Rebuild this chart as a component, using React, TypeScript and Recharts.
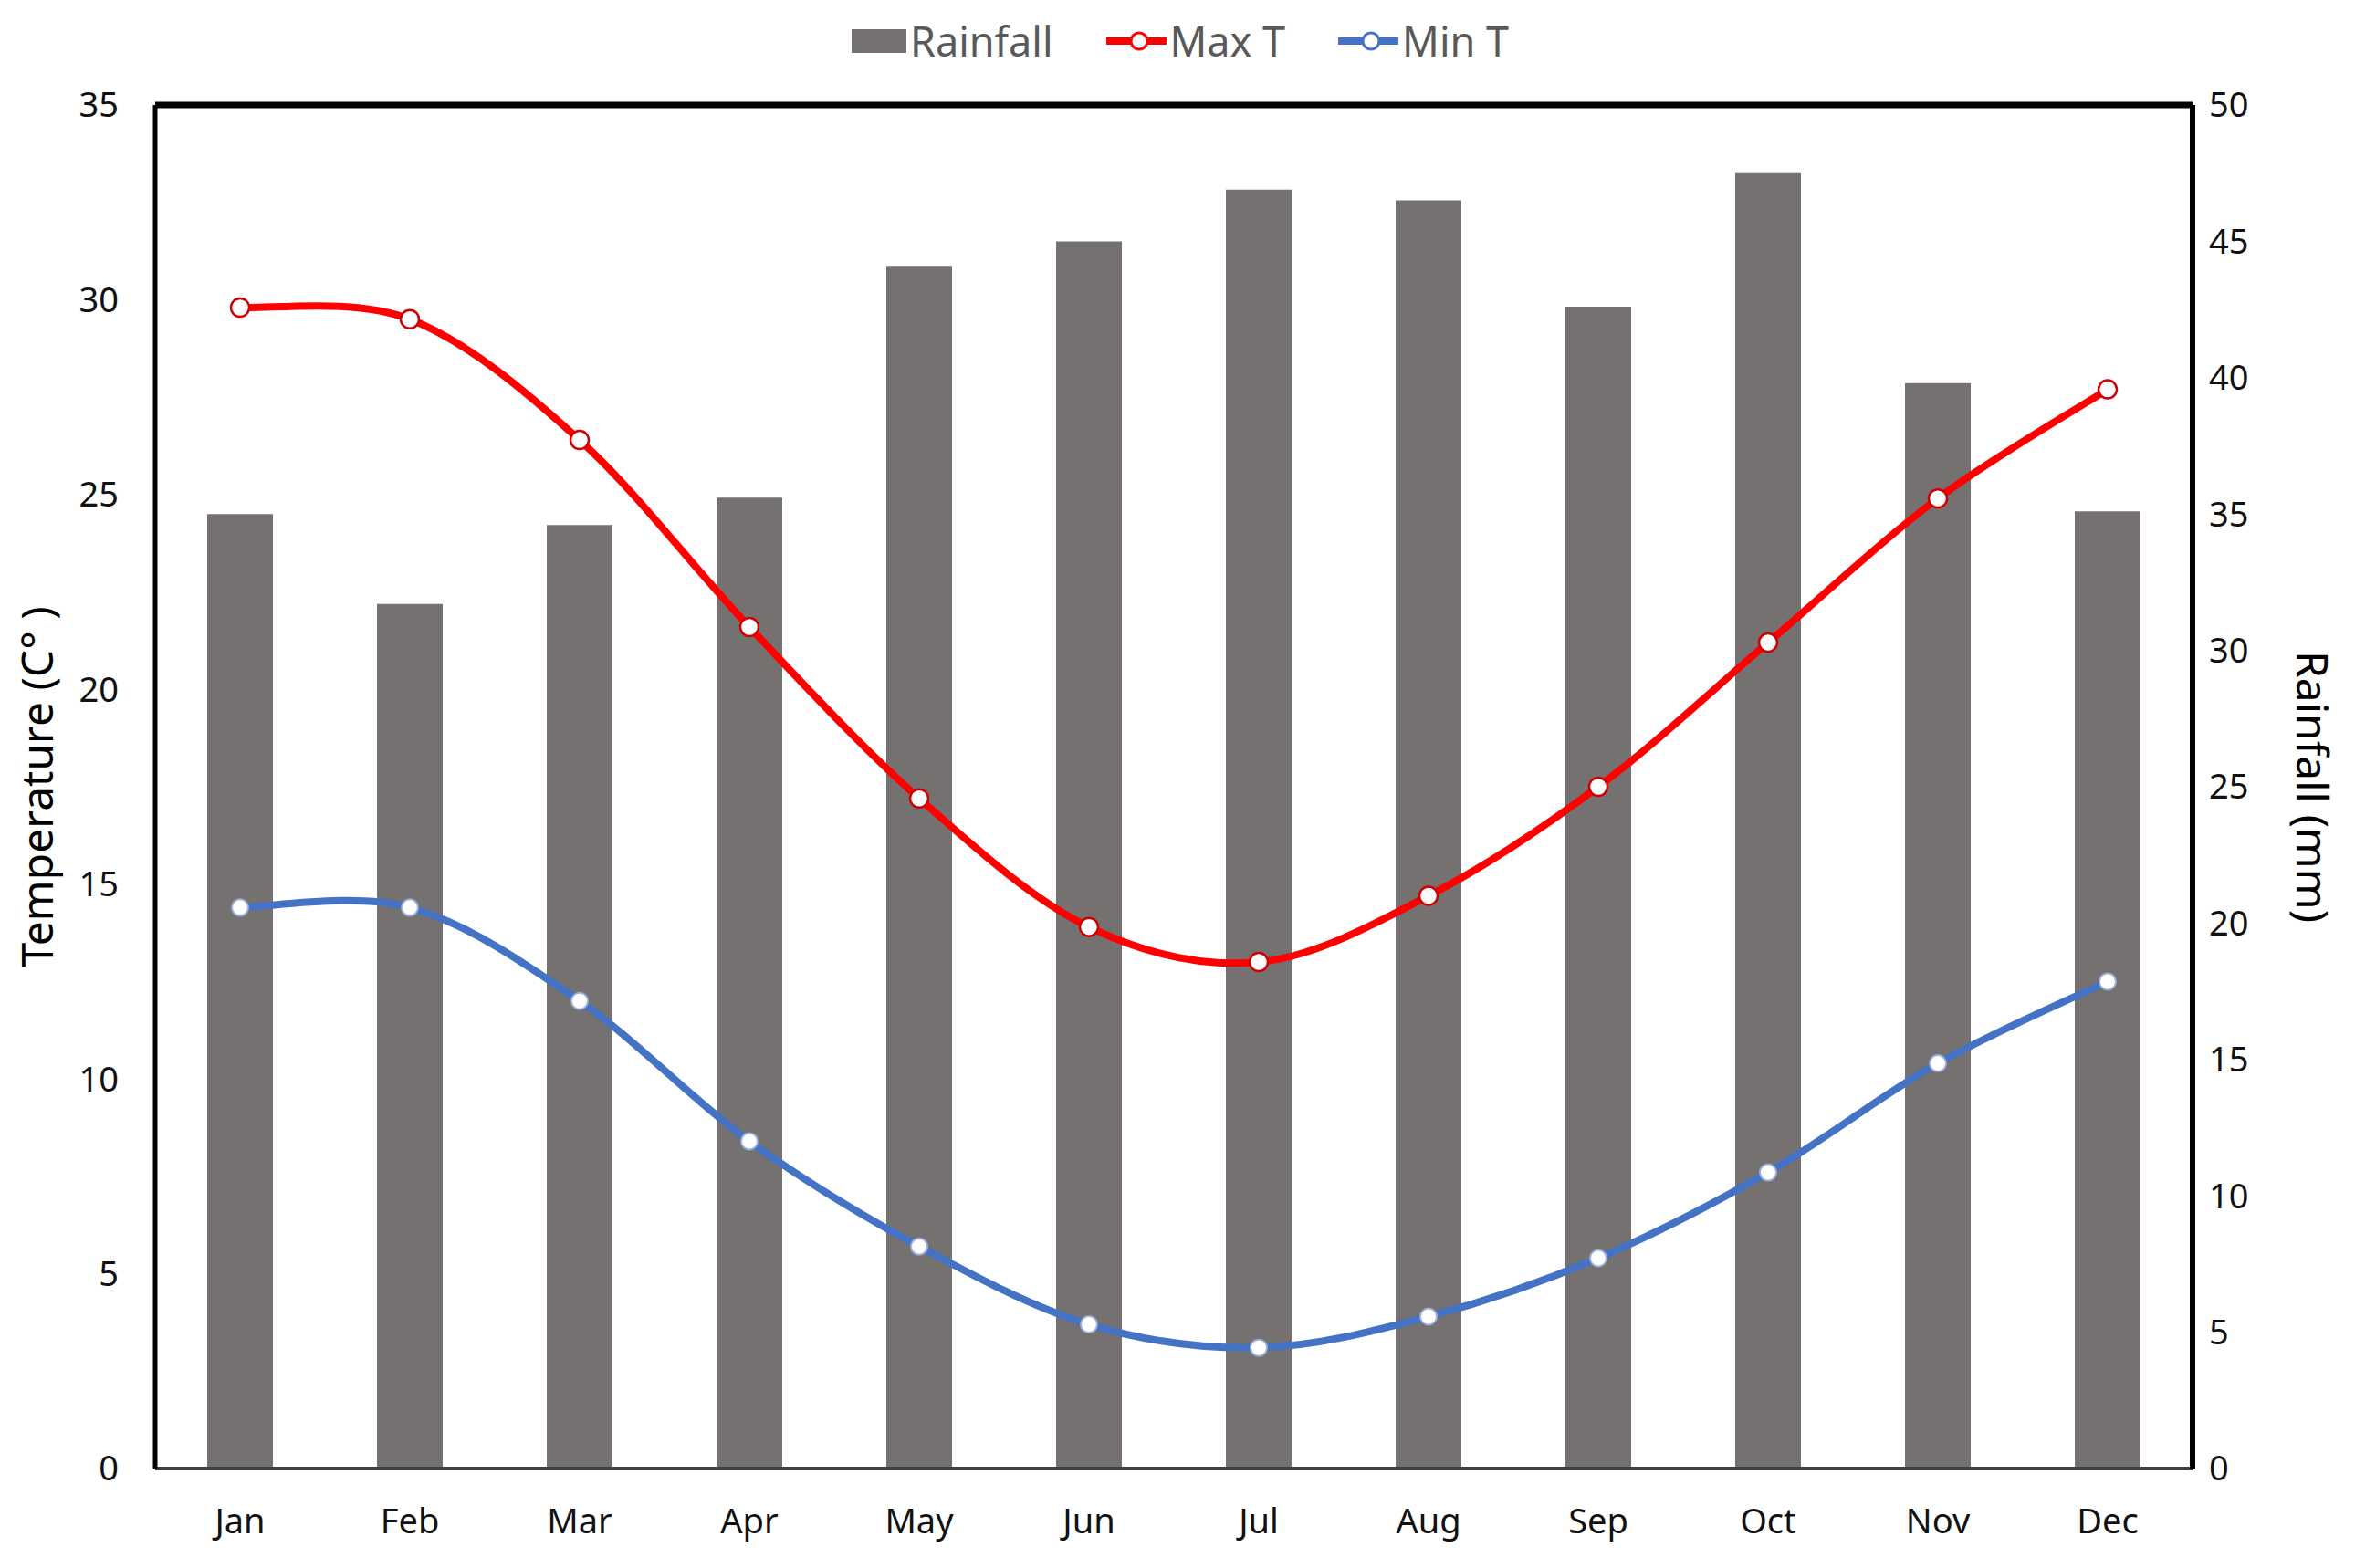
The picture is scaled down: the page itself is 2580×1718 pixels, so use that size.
import React from "react";
import { ComposedChart, Bar, Line, XAxis, YAxis, ReferenceLine } from "recharts";

const months = ["Jan", "Feb", "Mar", "Apr", "May", "Jun", "Jul", "Aug", "Sep", "Oct", "Nov", "Dec"];
const rainfall = [35.0, 31.7, 34.6, 35.6, 44.1, 45.0, 46.9, 46.5, 42.6, 47.5, 39.8, 35.1];
const maxT = [29.8, 29.5, 26.4, 21.6, 17.2, 13.9, 13.0, 14.7, 17.5, 21.2, 24.9, 27.7];
const minT = [14.4, 14.4, 12.0, 8.4, 5.7, 3.7, 3.1, 3.9, 5.4, 7.6, 10.4, 12.5];
const tempTicks = [0, 5, 10, 15, 20, 25, 30, 35];
const rainTicks = [0, 5, 10, 15, 20, 25, 30, 35, 40, 45, 50];

const data = months.map((m, i) => ({ month: m, rainfall: rainfall[i], maxT: maxT[i], minT: minT[i] }));

const FONT = "'Noto Sans', sans-serif";
const BAR = "#767171";
const RED = "#ff0000";
const BLUE = "#4472c4";

// excel-like smoothed line (catmull-rom through the points)
function smooth(context: any) {
  let pts: number[][] = [];
  return {
    areaStart() {},
    areaEnd() {},
    lineStart() {
      pts = [];
    },
    point(x: number, y: number) {
      pts.push([+x, +y]);
    },
    lineEnd() {
      if (!pts.length) return;
      context.moveTo(pts[0][0], pts[0][1]);
      for (let i = 0; i < pts.length - 1; i++) {
        const p0 = pts[i - 1] || pts[i];
        const p1 = pts[i];
        const p2 = pts[i + 1];
        const p3 = pts[i + 2] || p2;
        context.bezierCurveTo(
          p1[0] + (p2[0] - p0[0]) / 6,
          p1[1] + (p2[1] - p0[1]) / 6,
          p2[0] - (p3[0] - p1[0]) / 6,
          p2[1] - (p3[1] - p1[1]) / 6,
          p2[0],
          p2[1]
        );
      }
    },
  };
}

function LegendBox() {
  const items = [
    { label: "Rainfall", kind: "bar", color: BAR },
    { label: "Max T", kind: "line", color: RED },
    { label: "Min T", kind: "line", color: BLUE },
  ];
  return (
    <div
      style={{
        position: "absolute",
        top: 18,
        left: 0,
        width: 2580,
        display: "flex",
        justifyContent: "center",
        gap: 58,
        fontFamily: FONT,
        fontSize: 45,
        lineHeight: "54px",
        color: "#595959",
      }}
    >
      {items.map((it) => (
        <div key={it.label} style={{ display: "flex", alignItems: "center" }}>
          <svg width={66} height={30} style={{ marginRight: 4 }}>
            {it.kind === "bar" ? (
              <rect x={6} y={2} width={60} height={26} fill={it.color} />
            ) : (
              <g>
                <line x1={0} y1={15} x2={66} y2={15} stroke={it.color} strokeWidth={8} />
                <circle cx={36} cy={15} r={9} fill="#fff" stroke={it.color} strokeWidth={3} />
              </g>
            )}
          </svg>
          <span>{it.label}</span>
        </div>
      ))}
    </div>
  );
}

export default function App() {
  return (
    <div style={{ position: "absolute", left: 0, top: 0, width: 2580, height: 1718, background: "#fff" }}>
      <LegendBox />
      <ComposedChart width={2580} height={1718} data={data} margin={{ top: 115, right: 0, bottom: 0, left: 0 }}>
        <XAxis
          dataKey="month"
          height={109}
          tickLine={false}
          tickSize={0}
          tickMargin={44}
          axisLine={{ stroke: "#404040", strokeWidth: 4 }}
          tick={{ fill: "#111", fontSize: 38, fontFamily: FONT }}
        />
        <YAxis
          yAxisId="t"
          width={170}
          domain={[0, 35]}
          ticks={tempTicks}
          tickLine={false}
          tickSize={0}
          tickMargin={40}
          axisLine={{ stroke: "#000", strokeWidth: 5 }}
          tick={{ fill: "#111", fontSize: 38, fontFamily: FONT }}
          label={{ value: "Temperature (C° )", angle: -90, position: "center", dx: -44, fill: "#000", fontSize: 48, fontFamily: FONT }}
        />
        <YAxis
          yAxisId="r"
          orientation="right"
          width={178}
          domain={[0, 50]}
          ticks={rainTicks}
          tickLine={false}
          tickSize={0}
          tickMargin={18}
          axisLine={{ stroke: "#000", strokeWidth: 6 }}
          tick={{ fill: "#111", fontSize: 38, fontFamily: FONT, textAnchor: "start" }}
          label={{ value: "Rainfall (mm)", angle: 90, position: "center", dx: 42, fill: "#000", fontSize: 48, fontFamily: FONT }}
        />
        <Bar yAxisId="r" dataKey="rainfall" fill={BAR} barSize={72} isAnimationActive={false} />
        <ReferenceLine yAxisId="t" y={35} stroke="#000" strokeWidth={7} />
        <Line
          yAxisId="t"
          dataKey="maxT"
          type={smooth as any}
          stroke={RED}
          strokeWidth={8}
          dot={{ r: 10, fill: "#fff", stroke: "#d00000", strokeWidth: 2.5 }}
          isAnimationActive={false}
        />
        <Line
          yAxisId="t"
          dataKey="minT"
          type={smooth as any}
          stroke={BLUE}
          strokeWidth={8}
          dot={{ r: 9, fill: "#fff", stroke: "#9db0dc", strokeWidth: 2 }}
          isAnimationActive={false}
        />
      </ComposedChart>
    </div>
  );
}
